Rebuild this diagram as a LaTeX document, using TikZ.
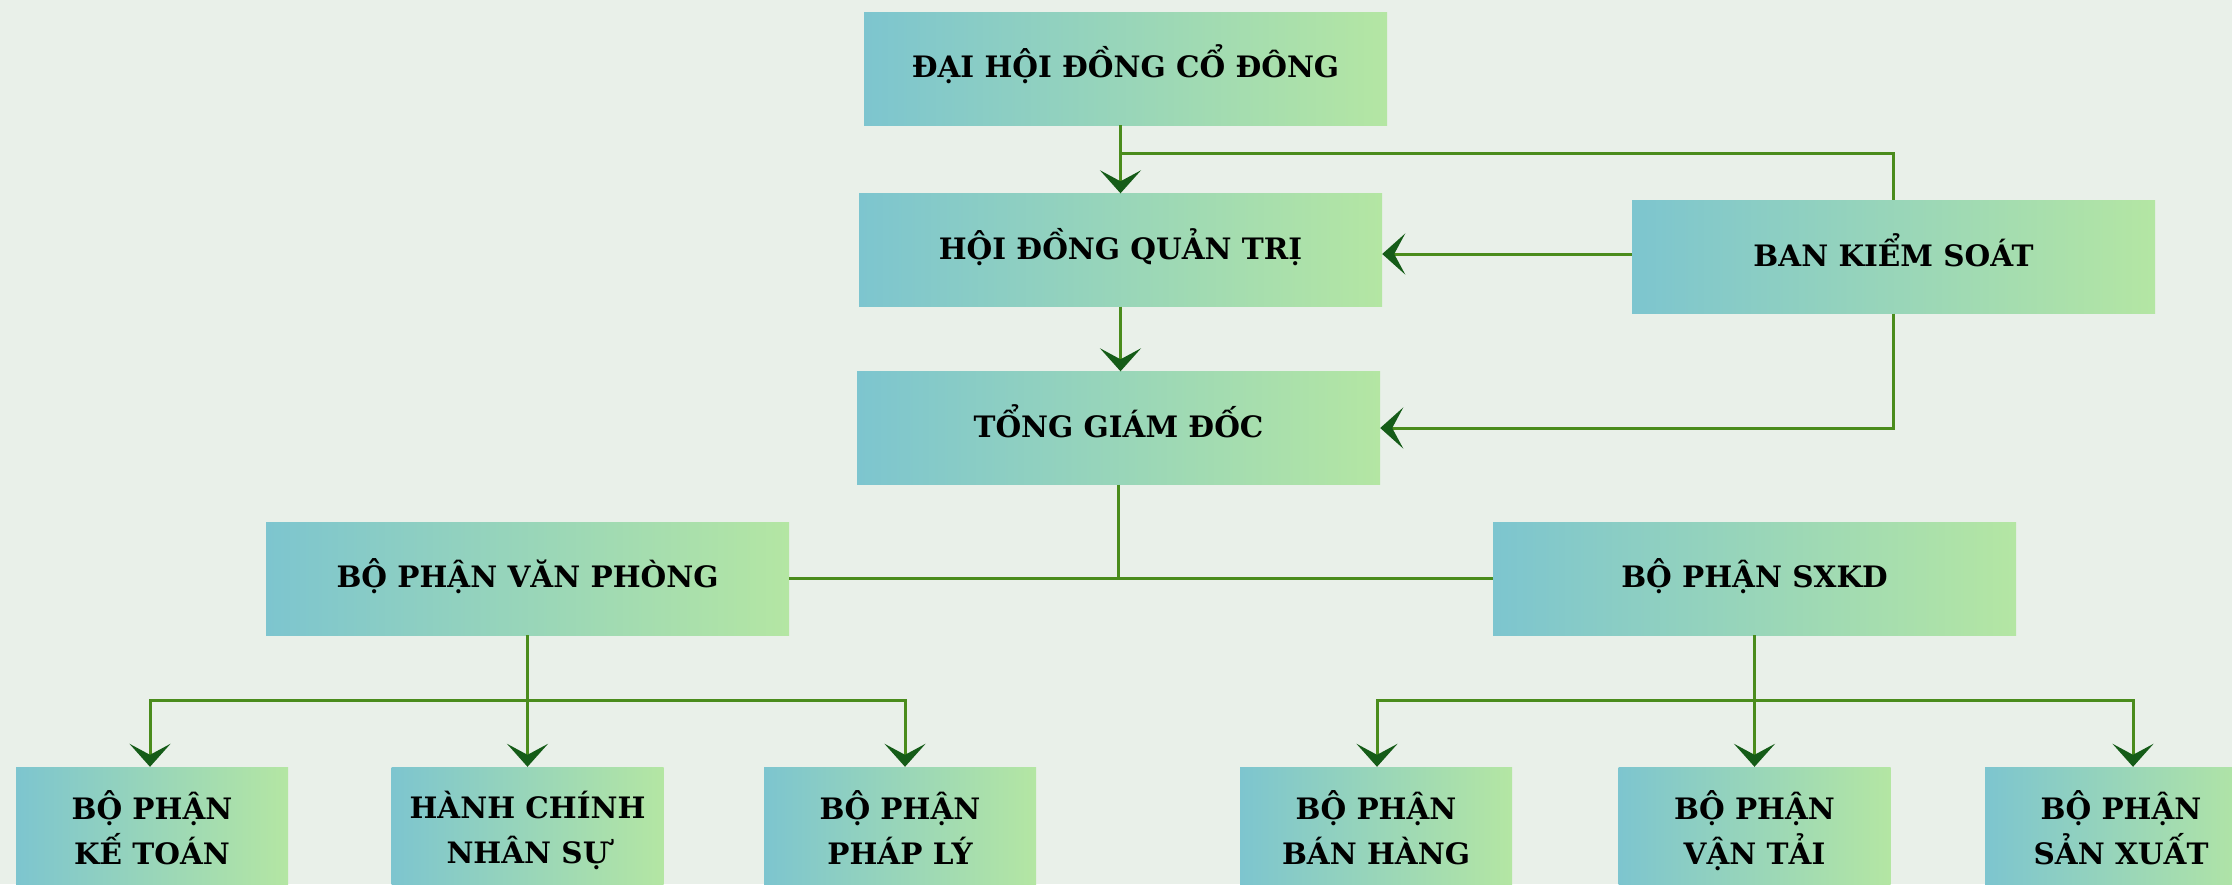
\documentclass[tikz,border=0pt]{standalone}
\usepackage{fontspec}
\setmainfont{DejaVu Serif}
\usetikzlibrary{arrows.meta}
\definecolor{bgc}{HTML}{E9F0E9}
\definecolor{boxl}{HTML}{7DC5CF}
\definecolor{boxr}{HTML}{B4E6A3}
\definecolor{linec}{HTML}{4A8C1C}
\definecolor{tipc}{HTML}{155C18}
\tikzset{
  orgbox/.style={minimum height=113pt, inner sep=0pt, left color=boxl, right color=boxr,
    font=\fontsize{29.5}{45}\selectfont\bfseries, align=center, text=black},
  wide/.style={orgbox, minimum width=523pt, text height=24pt, text depth=6pt},
  small/.style={orgbox, minimum width=272pt, minimum height=127pt,
    execute at begin node={\vphantom{ẤỘ}}, execute at end node={\vphantom{Ộ}}},
  conn/.style={draw=linec, line width=3pt},
  arr/.style={conn, -{Stealth[length=23pt,width=41pt,inset=11pt,color=tipc]}},
}
\begin{document}
\begin{tikzpicture}[x=1pt,y=-1pt]
\fill[bgc] (0,0) rectangle (2232,884);
\useasboundingbox (0,0) rectangle (2232,884);
\node[wide] (dhcd) at (1125.5,68.5) {ĐẠI HỘI ĐỒNG CỔ ĐÔNG};
\node[wide] (hdqt) at (1120.5,250) {HỘI ĐỒNG QUẢN TRỊ};
\node[wide] (bks) at (1893.5,257) {BAN KIỂM SOÁT};
\node[wide] (tgd) at (1118.5,428) {TỔNG GIÁM ĐỐC};
\node[wide] (vp) at (527.5,578.5) {BỘ PHẬN VĂN PHÒNG};
\node[wide] (sx) at (1754.5,578.5) {BỘ PHẬN SXKD};
\node[small] (c1) at (152,830.5) {BỘ PHẬN\\KẾ TOÁN};
\node[small] (c2) at (527.5,830.5) {HÀNH CHÍNH\\NHÂN SỰ};
\node[small] (c3) at (900,830.5) {BỘ PHẬN\\PHÁP LÝ};
\node[small] (c4) at (1376,830.5) {BỘ PHẬN\\BÁN HÀNG};
\node[small] (c5) at (1754.5,830.5) {BỘ PHẬN\\VẬN TẢI};
\node[small] (c6) at (2121,830.5) {BỘ PHẬN\\SẢN XUẤT};
\coordinate (j1) at (1120.5,153);
\coordinate (b1) at (527.5,700);
\coordinate (b2) at (1754.5,700);
% top
\draw[arr] (dhcd.south -| hdqt.north) -- (hdqt.north);
\draw[conn] (j1) -| (bks.north);
\draw[arr] ([yshift=3pt]bks.west) -- ([yshift=3pt]bks.west -| hdqt.east);
\draw[arr] (bks.south) |- (tgd.east);
\draw[arr] (hdqt.south) -- (hdqt.south |- tgd.north);
\draw[conn] (tgd.south) -- (tgd.south |- vp.east);
\draw[conn] (vp.east) -- (sx.west);
% left branch
\draw[conn] (vp.south) -- (b1);
\draw[arr] (b1) -| ([xshift=-2pt]c1.north);
\draw[arr] (b1) -- (c2.north);
\draw[arr] (b1) -| ([xshift=5pt]c3.north);
% right branch
\draw[conn] (sx.south) -- (b2);
\draw[arr] (b2) -| ([xshift=1pt]c4.north);
\draw[arr] (b2) -- (c5.north);
\draw[arr] (b2) -| ([xshift=12pt]c6.north);
\end{tikzpicture}
\end{document}
